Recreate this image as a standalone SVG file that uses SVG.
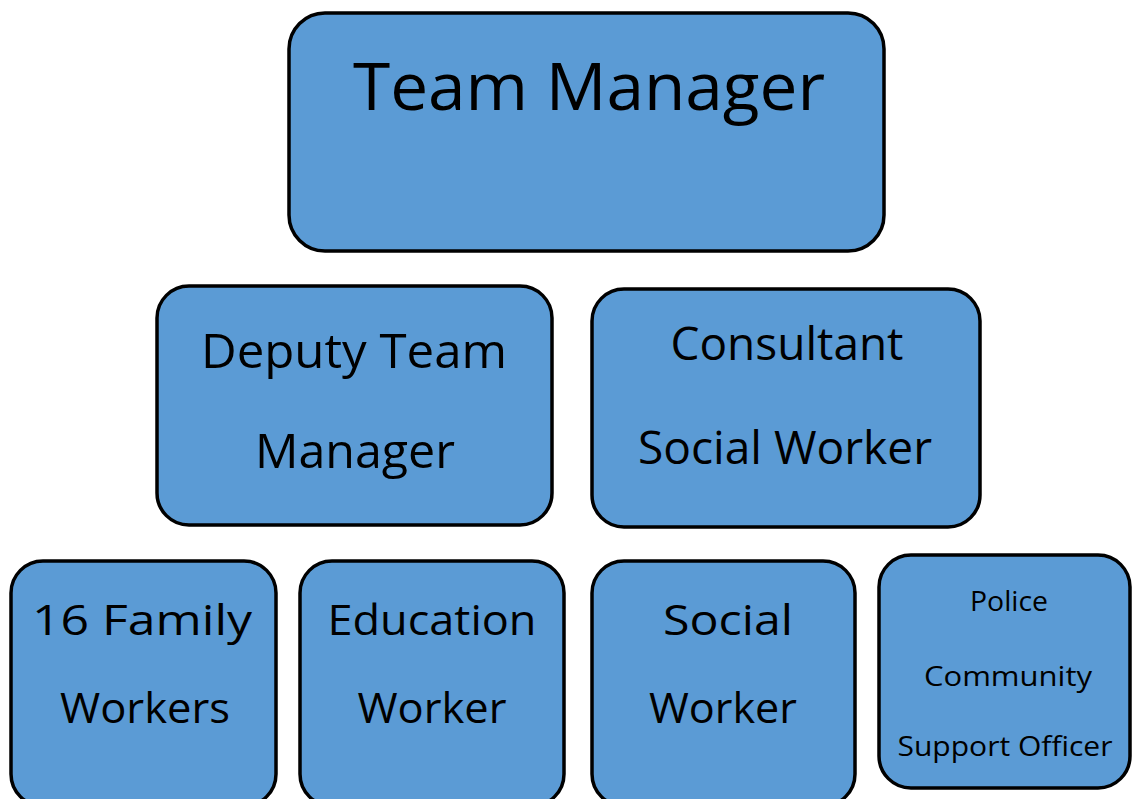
<svg xmlns="http://www.w3.org/2000/svg" width="1132" height="799" viewBox="0 0 1132 799">
<style>
.box{fill:#5B9BD5;stroke:#000;stroke-width:3.5}
text{font-family:"Open Sans","Liberation Sans",sans-serif;fill:#000;text-anchor:middle}
</style>
<rect width="1132" height="799" fill="#fff"/>
<g id="connectors"></g>
<g id="team-manager">
<rect class="box" x="289" y="13" width="595" height="238" rx="36"/>
<text x="589" y="110" font-size="66" textLength="472" lengthAdjust="spacingAndGlyphs">Team Manager</text>
</g>
<g id="deputy">
<rect class="box" x="157" y="286" width="395" height="239" rx="32"/>
<text x="354" y="368" font-size="48" textLength="306" lengthAdjust="spacingAndGlyphs">Deputy Team</text>
<text x="355" y="468" font-size="48" textLength="200" lengthAdjust="spacingAndGlyphs">Manager</text>
</g>
<g id="consultant">
<rect class="box" x="592" y="289" width="388" height="238" rx="32"/>
<text x="787" y="360" font-size="46" textLength="233" lengthAdjust="spacingAndGlyphs">Consultant</text>
<text x="785" y="464" font-size="46" textLength="294" lengthAdjust="spacingAndGlyphs">Social Worker</text>
</g>
<g id="family-workers">
<rect class="box" x="11" y="561" width="265" height="245" rx="32"/>
<text x="142" y="635" font-size="42" textLength="220" lengthAdjust="spacingAndGlyphs">16 Family</text>
<text x="145" y="723" font-size="42" textLength="170" lengthAdjust="spacingAndGlyphs">Workers</text>
</g>
<g id="education-worker">
<rect class="box" x="300" y="561" width="264" height="245" rx="32"/>
<text x="432" y="635" font-size="42" textLength="209" lengthAdjust="spacingAndGlyphs">Education</text>
<text x="432" y="723" font-size="42" textLength="149" lengthAdjust="spacingAndGlyphs">Worker</text>
</g>
<g id="social-worker">
<rect class="box" x="592" y="561" width="263" height="245" rx="32"/>
<text x="728" y="635" font-size="42" textLength="130" lengthAdjust="spacingAndGlyphs">Social</text>
<text x="723" y="723" font-size="42" textLength="148" lengthAdjust="spacingAndGlyphs">Worker</text>
</g>
<g id="pcso">
<rect class="box" x="879" y="555" width="251" height="233" rx="32"/>
<text x="1009" y="611" font-size="28" textLength="78" lengthAdjust="spacingAndGlyphs">Police</text>
<text x="1008" y="686" font-size="28" textLength="168" lengthAdjust="spacingAndGlyphs">Community</text>
<text x="1005" y="756" font-size="28" textLength="215" lengthAdjust="spacingAndGlyphs">Support Officer</text>
</g>
</svg>
